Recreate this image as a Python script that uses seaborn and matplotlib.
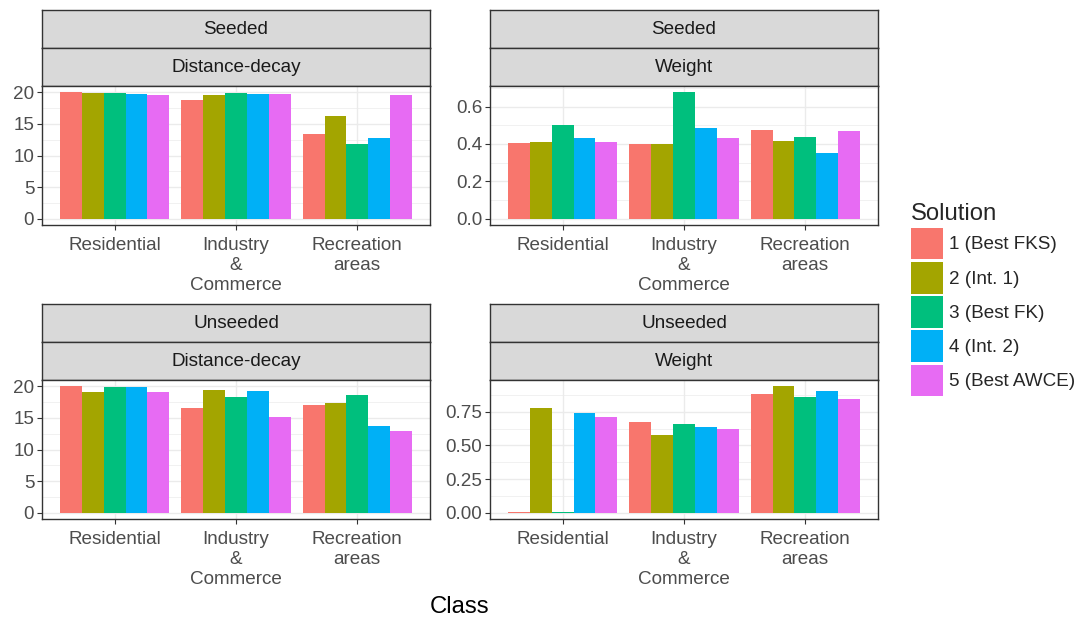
import numpy as np
import pandas as pd
import matplotlib
matplotlib.use("Agg")
import matplotlib.pyplot as plt
from matplotlib.patches import Patch
from matplotlib.ticker import FixedLocator, FixedFormatter
import seaborn as sns

sns.set_style("white")
plt.rcParams["font.family"] = ["Liberation Sans", "DejaVu Sans"]

# --- data -------------------------------------------------------------------
classes = ["Residential", "Industry\n&\nCommerce", "Recreation\nareas"]
solutions = ["1 (Best FKS)", "2 (Int. 1)", "3 (Best FK)", "4 (Int. 2)", "5 (Best AWCE)"]
colors = ["#F8766D", "#A3A500", "#00BF7D", "#00B0F6", "#E76BF3"]

# rows: class, columns: solution
seeded_distance = [
    [20.0, 19.9, 19.85, 19.7, 19.5],
    [18.74, 19.63, 19.84, 19.69, 19.79],
    [13.46, 16.28, 11.78, 12.77, 19.53],
]
seeded_weight = [
    [0.406, 0.411, 0.499, 0.431, 0.411],
    [0.397, 0.397, 0.676, 0.483, 0.432],
    [0.476, 0.415, 0.439, 0.351, 0.468],
]
unseeded_distance = [
    [20.0, 19.16, 19.9, 19.9, 19.16],
    [16.63, 19.42, 18.26, 19.26, 15.21],
    [17.05, 17.3, 18.68, 13.74, 13.0],
]
unseeded_weight = [
    [0.008, 0.782, 0.006, 0.738, 0.713],
    [0.678, 0.580, 0.656, 0.641, 0.619],
    [0.886, 0.940, 0.864, 0.906, 0.849],
]

y_major = {
    "dd": [0, 5, 10, 15, 20],
    "w_s": [0.0, 0.2, 0.4, 0.6],
    "w_u": [0.0, 0.25, 0.5, 0.75],
}
y_labels = {
    "dd": ["0", "5", "10", "15", "20"],
    "w_s": ["0.0", "0.2", "0.4", "0.6"],
    "w_u": ["0.00", "0.25", "0.50", "0.75"],
}

panels = [
    ("Seeded", "Distance-decay", seeded_distance, "dd"),
    ("Seeded", "Weight", seeded_weight, "w_s"),
    ("Unseeded", "Distance-decay", unseeded_distance, "dd"),
    ("Unseeded", "Weight", unseeded_weight, "w_u"),
]


def long_frame(values):
    rows = []
    for ci, c in enumerate(classes):
        for si, s in enumerate(solutions):
            rows.append({"Class": c, "Solution": s, "Value": values[ci][si]})
    return pd.DataFrame(rows)


# --- layout (pixels on a 1086 x 622 canvas) ---------------------------------
W, H = 1086, 622
fig = plt.figure(figsize=(W / 100, H / 100), dpi=100)
fig.patch.set_facecolor("white")

col_x = [42, 490]
panel_w = 388
row_top = [10, 304]       # top of upper strip
strip_h = 38
panel_h = 139

BORDER = "#333333"
GRID = "#EBEBEB"
TXT = "#4D4D4D"
FS = 13.6


def fx(px):
    return px / W


def fy(py):
    return 1 - py / H


for i, (group, measure, values, key) in enumerate(panels):
    r, c = divmod(i, 2)
    x0 = col_x[c]
    t0 = row_top[r]
    # strips
    for k, label in enumerate([group, measure]):
        st = t0 + k * strip_h
        sax = fig.add_axes([fx(x0), fy(st + strip_h), fx(panel_w), strip_h / H])
        sax.set_facecolor("#D9D9D9")
        sax.set_xticks([])
        sax.set_yticks([])
        for sp in sax.spines.values():
            sp.set_color(BORDER)
            sp.set_linewidth(1.0)
        sax.text(0.5, 0.5, label, ha="center", va="center", fontsize=FS,
                 color="#1A1A1A", transform=sax.transAxes)

    ptop = t0 + 2 * strip_h
    ax = fig.add_axes([fx(x0), fy(ptop + panel_h), fx(panel_w), panel_h / H])
    df = long_frame(values)
    sns.barplot(data=df, x="Class", y="Value", hue="Solution",
                hue_order=solutions, order=classes, palette=colors,
                width=0.9, saturation=1, linewidth=0, errorbar=None,
                legend=False, ax=ax)

    vmax = df["Value"].max()
    ax.set_ylim(-0.05 * vmax, 1.05 * vmax)
    ax.set_xlim(-0.6, 2.6)

    majors = y_major[key]
    step = majors[1] - majors[0]
    minors = [m + step / 2 for m in majors]
    ax.yaxis.set_major_locator(FixedLocator(majors))
    ax.yaxis.set_major_formatter(FixedFormatter(y_labels[key]))
    ax.yaxis.set_minor_locator(FixedLocator(minors))

    ax.set_axisbelow(True)
    ax.grid(which="major", axis="both", color=GRID, linewidth=1.0)
    ax.grid(which="minor", axis="y", color=GRID, linewidth=0.5)
    ax.tick_params(which="minor", length=0)
    ax.tick_params(which="major", direction="out", length=3.6, width=0.8,
                   color=BORDER, labelsize=FS, labelcolor=TXT, pad=2,
                   bottom=True, left=True)
    ax.tick_params(axis="x", pad=5.2)
    for lbl in ax.get_xticklabels():
        lbl.set_linespacing(1.24)
    for sp in ax.spines.values():
        sp.set_color(BORDER)
        sp.set_linewidth(1.0)
    ax.set_xlabel("")
    ax.set_ylabel("")

fig.text(fx(460), fy(607), "Class", ha="center", va="center", fontsize=17.2,
         color="black")

handles = [Patch(facecolor=col, edgecolor="none", label=s)
           for s, col in zip(solutions, colors)]
fig.legend(handles=handles, title="Solution", loc="upper left",
           bbox_to_anchor=(fx(911), fy(203)), frameon=False, fontsize=FS,
           title_fontsize=17.2, handlelength=1.71, handleheight=2.2,
           labelspacing=0.14, handletextpad=0.32, borderpad=0,
           borderaxespad=0, alignment="left")

fig.savefig("out.png", dpi=100, facecolor="white")
